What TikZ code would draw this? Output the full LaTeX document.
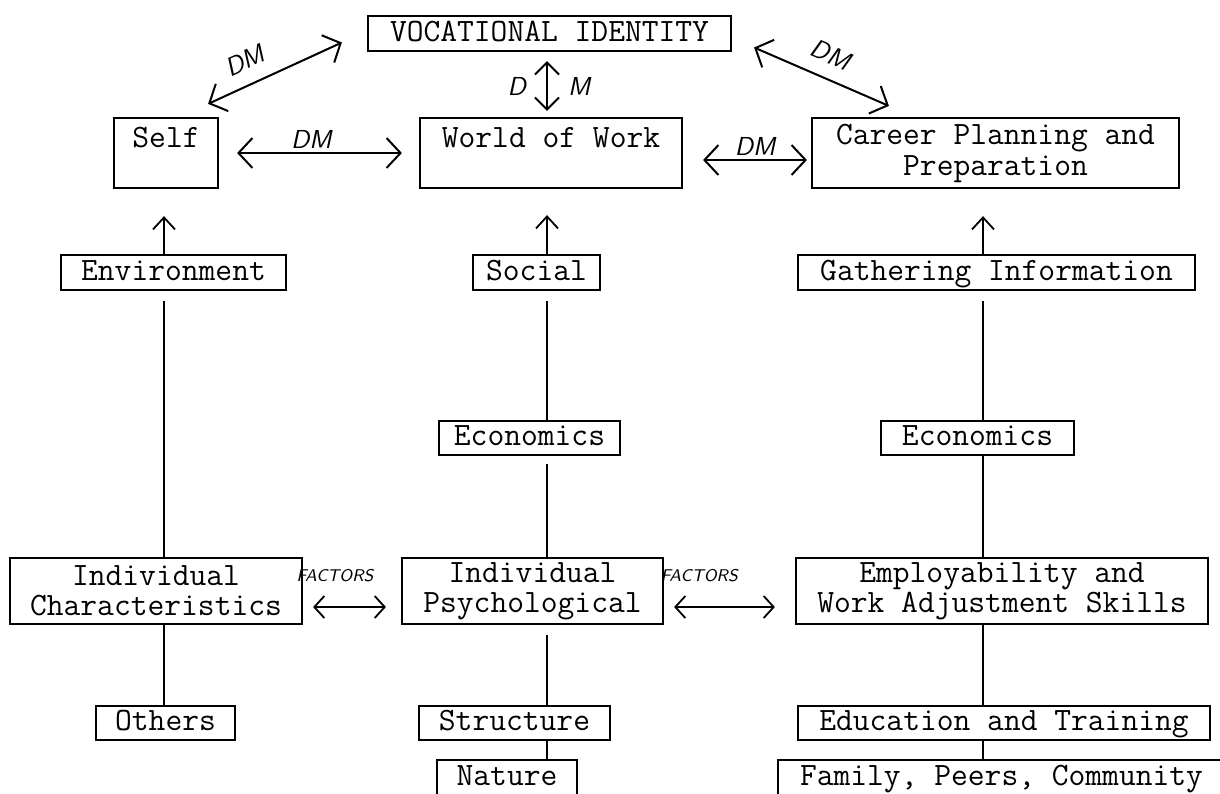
\documentclass[tikz,border=0pt]{standalone}
\usetikzlibrary{arrows.meta,calc}
\begin{document}
\begin{tikzpicture}[x=0.5pt,y=-0.5pt,
  box/.style={draw, line width=1.1pt, inner sep=0pt, font=\fontsize{16.3}{15}\selectfont\ttfamily},
  one/.style={text height=10.5pt, text depth=3pt},
  toptext/.style={text height=14.5pt, text depth=20.5pt},
  two/.style={align=center},
  vline/.style={line width=0.9pt},
  uparr/.style={line width=0.9pt, -{Straight Barb[length=6pt,width=11pt]}},
  dmarr/.style={line width=1pt, {Straight Barb[length=7pt,width=15pt]}-{Straight Barb[length=7pt,width=15pt]}},
  facarr/.style={line width=0.9pt, {Straight Barb[length=5pt,width=11pt]}-{Straight Barb[length=5pt,width=11pt]}},
  hand/.style={font=\fontsize{13}{13}\selectfont\sffamily\itshape, inner sep=1pt},
  fac/.style={font=\fontsize{8.5}{8.5}\selectfont\sffamily\itshape, inner sep=1pt}
]
\clip (0,0) rectangle (1220,793);
\fill[white] (0,0) rectangle (1220,793);

\coordinate (cL) at (164,0);
\coordinate (cM) at (547,0);
\coordinate (cR) at (983,0);

% top
\node[box, one, minimum width=363*0.5pt, minimum height=35*0.5pt] (voc) at (549.5,33.5) {VOCATIONAL IDENTITY};
% row 2
\node[box, toptext, minimum width=104*0.5pt] (self) at (166,153) {Self};
\node[box, toptext, minimum width=262*0.5pt] (world) at (551,153) {World of Work};
\node[box, two, font=\fontsize{16.3}{15.5}\selectfont\ttfamily, minimum width=367*0.5pt, minimum height=70*0.5pt] (career) at (995.5,153) {Career Planning and\\Preparation};
% row 3
\node[box, one, minimum width=225*0.5pt, minimum height=35*0.5pt] (env) at (173.5,272.5) {Environment};
\node[box, one, minimum width=127*0.5pt, minimum height=35*0.5pt] (social) at (536.5,272.5) {Social};
\node[box, one, minimum width=397*0.5pt, minimum height=35*0.5pt] (gather) at (996.5,272.5) {Gathering Information};
% economics
\node[box, one, minimum width=181*0.5pt, minimum height=34*0.5pt] (econa) at (529.5,438) {Economics};
\node[box, one, minimum width=193*0.5pt, minimum height=34*0.5pt] (econb) at (977.5,438) {Economics};
% individual row
\node[box, two, minimum width=292*0.5pt, minimum height=66*0.5pt] (indc) at (156,591) {Individual\\Characteristics};
\node[box, two, minimum width=261*0.5pt, minimum height=66*0.5pt] (indp) at (532.5,591) {Individual\\Psychological};
\node[box, two, minimum width=412*0.5pt, minimum height=66*0.5pt] (empl) at (1002,591) {Employability and\\Work Adjustment Skills};
% lower rows
\node[box, one, minimum width=139*0.5pt, minimum height=34*0.5pt] (others) at (165.5,723) {Others};
\node[box, one, minimum width=191*0.5pt, minimum height=34*0.5pt] (struct) at (514.5,723) {Structure};
\node[box, one, minimum width=412*0.5pt, minimum height=34*0.5pt] (educ) at (1004,723) {Education and Training};
\node[box, one, minimum width=140*0.5pt, minimum height=36*0.5pt] (nature) at (507,778) {Nature};
\node[box, one, minimum width=447*0.5pt, minimum height=36*0.5pt] (family) at (1001.5,778) {Family, Peers, Community};

% up arrows
\draw[uparr] (env.north -| cL) -- ($(self.south -| cL)+(0,27)$);
\draw[uparr] (social.north -| cM) -- ($(world.south -| cM)+(0,26)$);
\draw[uparr] (gather.north -| cR) -- ($(career.south -| cR)+(0,27)$);

% vertical lines
\draw[vline, shorten <=5pt] (env.south -| cL) -- (indc.north -| cL);
\draw[vline] (indc.south -| cL) -- (others.north -| cL);
\draw[vline, shorten <=5pt] (social.south -| cM) -- (econa.north -| cM);
\draw[vline, shorten <=4pt] (econa.south -| cM) -- (indp.north -| cM);
\draw[vline, shorten <=5pt] (indp.south -| cM) -- (struct.north -| cM);
\draw[vline] (struct.south -| cM) -- (nature.north -| cM);
\draw[vline, shorten <=5pt] (gather.south -| cR) -- (econb.north -| cR);
\draw[vline] (econb.south -| cR) -- (empl.north -| cR);
\draw[vline] (empl.south -| cR) -- (educ.north -| cR);
\draw[vline] (educ.south -| cR) -- (family.north -| cR);

% DM arrows
\draw[dmarr] ($(self.north east)+(-11,-13)$) -- node[hand, sloped, above=6pt, pos=0.35] {DM} ($(voc.west)+(-25,9)$);
\draw[dmarr] ($(voc.east)+(22,14)$) -- node[hand, sloped, above=6pt, pos=0.5] {DM} ($(career.north west)+(78,-11)$);
\draw[dmarr] ($(self.east)+(18,0)$) -- node[hand, above=1pt, pos=0.45] {DM} ($(world.west)+(-17,0)$);
\draw[dmarr] ($(world.east)+(20,7)$) -- node[hand, above=1pt] {DM} ($(career.west)+(-4,7)$);
\draw[line width=1pt, {Straight Barb[length=6pt,width=12pt]}-{Straight Barb[length=6pt,width=12pt]}]
  ($(voc.south -| cM)+(0,9)$) -- node[hand, left=9pt] {D} node[hand, right=9pt] {M} ($(world.north -| cM)+(0,-6)$);

% factors arrows
\draw[facarr] ($(indc.east)+(10,16)$) -- node[fac, above=11pt, pos=0.3] {FACTORS} ($(indp.west)+(-15,16)$);
\draw[facarr] ($(indp.east)+(10,16)$) -- node[fac, above=11pt, pos=0.25] {FACTORS} ($(empl.west)+(-20,16)$);
\end{tikzpicture}
\end{document}
